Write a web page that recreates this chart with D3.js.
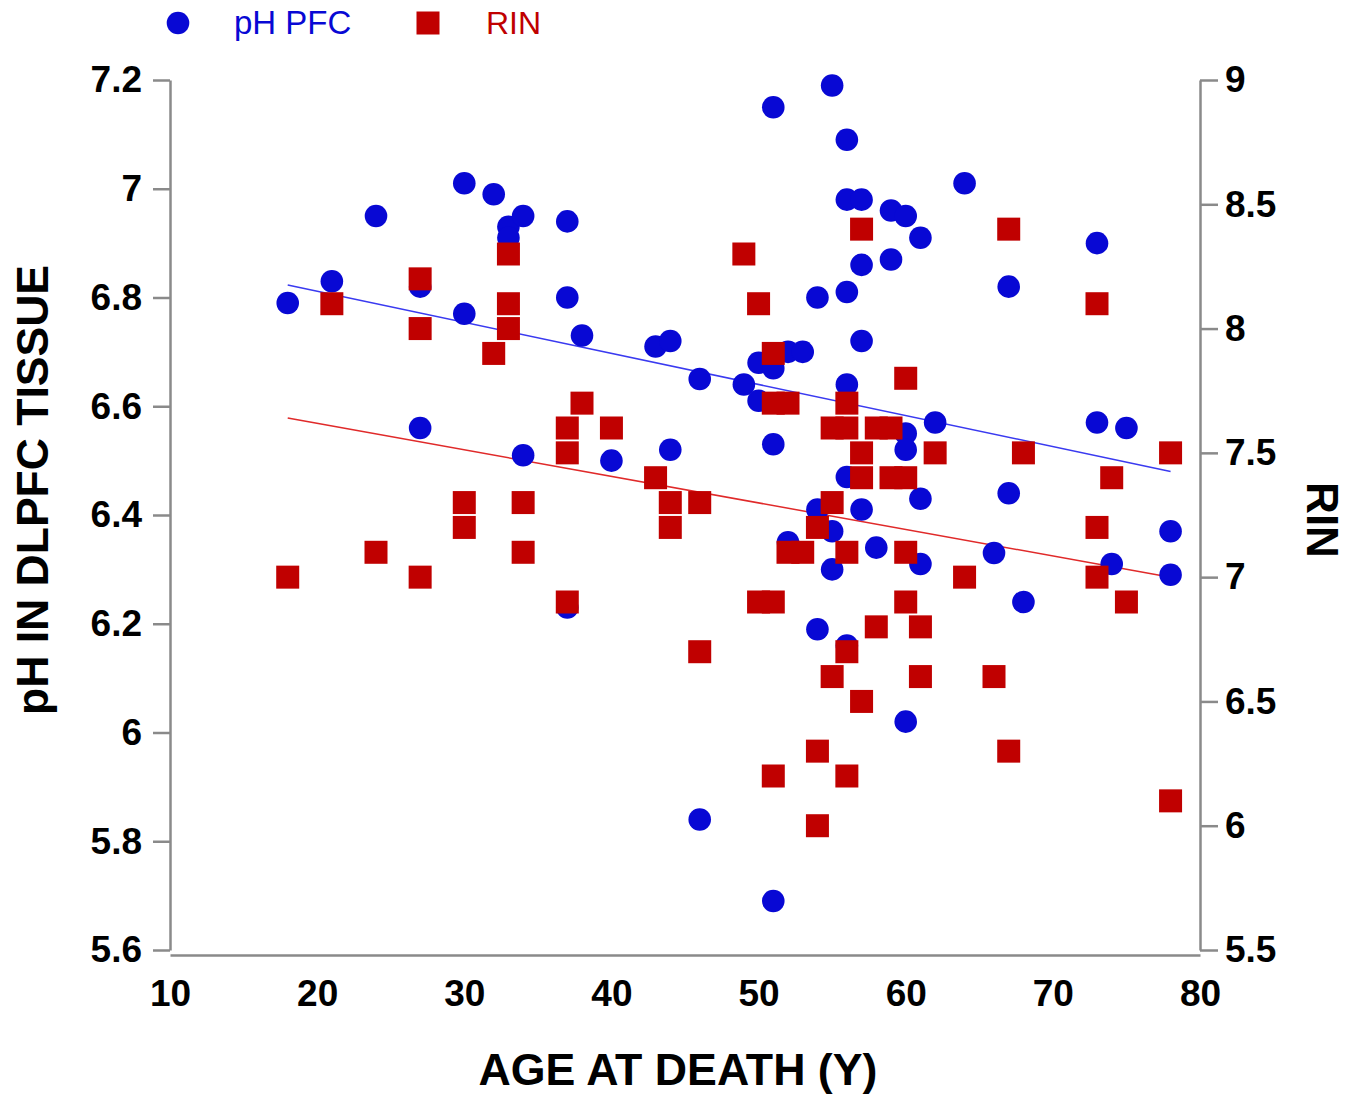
<!DOCTYPE html>
<html>
<head>
<meta charset="utf-8">
<script src="https://cdn.jsdelivr.net/npm/d3@7"></script>
<style>
  html, body { margin: 0; padding: 0; background: #fff; }
  svg { display: block; }
</style>
</head>
<body>
<svg id="chart" width="1363" height="1098"></svg>
<script>
// ---------- data ----------
const phAge = [18,21,24,27,27,30,30,32,33,33,34,34,37,37,37,38,40,43,44,44,46,46,49,50,50,51,51,51,51,52,52,53,54,54,54,55,55,55,56,56,56,56,56,56,57,57,57,57,58,59,59,60,60,60,60,61,61,61,62,64,66,67,67,68,73,73,74,75,78,78];
const phValue = [6.79,6.83,6.95,6.82,6.56,7.01,6.77,6.99,6.93,6.91,6.95,6.51,6.94,6.80,6.23,6.73,6.50,6.71,6.72,6.52,6.65,5.84,6.64,6.68,6.61,7.15,6.67,6.53,5.69,6.70,6.35,6.70,6.80,6.41,6.19,7.19,6.37,6.30,7.09,6.98,6.81,6.64,6.47,6.16,6.98,6.86,6.72,6.41,6.34,6.96,6.87,6.95,6.55,6.52,6.02,6.91,6.43,6.31,6.57,7.01,6.33,6.82,6.44,6.24,6.90,6.57,6.31,6.56,6.37,6.29];
const rinAge = [18,21,24,27,27,27,30,30,32,33,33,33,34,34,37,37,37,38,40,43,44,44,46,46,49,50,50,51,51,51,51,52,52,53,54,54,54,55,55,55,56,56,56,56,56,57,57,57,57,58,58,59,59,60,60,60,60,61,61,62,64,66,67,67,68,73,73,73,74,75,78,78];
const rinValue = [7.0,8.1,7.1,8.2,8.0,7.0,7.3,7.2,7.9,8.3,8.1,8.0,7.3,7.1,7.6,7.5,6.9,7.7,7.6,7.4,7.3,7.2,7.3,6.7,8.3,8.1,6.9,7.9,7.7,6.9,6.2,7.7,7.1,7.1,7.2,6.3,6.0,7.6,7.3,6.6,7.7,7.6,7.1,6.7,6.2,8.4,7.5,7.4,6.5,7.6,6.8,7.6,7.4,7.8,7.4,7.1,6.9,6.8,6.6,7.5,7.0,6.6,8.4,6.3,7.5,8.1,7.2,7.0,7.4,6.9,7.5,6.1];
// fitted trend lines
const fitAge = [18, 78];
const phFit = [6.823, 6.48];
const rinFit = [7.64, 7.0];
// ticks
const xTicks = [10,20,30,40,50,60,70,80];
const yLeftTicks = [5.6,5.8,6.0,6.2,6.4,6.6,6.8,7.0,7.2];
const yRightTicks = [5.5,6.0,6.5,7.0,7.5,8.0,8.5,9.0];
const seriesNames = ["pH PFC", "RIN"];
const xTitle = "AGE AT DEATH (Y)";
const yLeftTitle = "pH IN DLPFC TISSUE";
const yRightTitle = "RIN";

// ---------- chart ----------
const BLUE = "#0808d4", RED = "#c00000", AXIS = "#8a8a8a";
const FONT = "'Liberation Sans', Arial, Helvetica, sans-serif";
const svg = d3.select("#chart");

const x = d3.scaleLinear().domain([10, 80]).range([170, 1200]);
const yL = d3.scaleLinear().domain([5.6, 7.2]).range([950, 80]);
const yR = d3.scaleLinear().domain([5.5, 9]).range([950, 80]);

const fmt = d => String(+d.toFixed(1));

function styleAxis(g) {
  g.selectAll("path.domain").attr("stroke", AXIS).attr("stroke-width", 2.5);
  g.selectAll(".tick line").attr("stroke", AXIS).attr("stroke-width", 2.5);
  g.selectAll(".tick text").attr("fill", "#000").style("font-family", FONT)
    .style("font-weight", "bold").style("font-size", "37px");
}

const gL = svg.append("g").attr("transform", "translate(170,0)")
  .call(d3.axisLeft(yL).tickValues(yLeftTicks).tickFormat(fmt).tickSize(17).tickSizeOuter(0).tickPadding(11));
gL.attr("font-family", null).attr("font-size", null);
styleAxis(gL);

const gR = svg.append("g").attr("transform", "translate(1200,0)")
  .call(d3.axisRight(yR).tickValues(yRightTicks).tickFormat(fmt).tickSize(18).tickSizeOuter(0).tickPadding(7));
gR.attr("font-family", null).attr("font-size", null);
styleAxis(gR);

const gB = svg.append("g").attr("transform", "translate(0,955)")
  .call(d3.axisBottom(x).tickValues(xTicks).tickFormat(d3.format("d")).tickSize(0).tickSizeOuter(0).tickPadding(25));
gB.attr("font-family", null).attr("font-size", null);
styleAxis(gB);

// axis titles
svg.append("text").attr("x", 678).attr("y", 1085).attr("text-anchor", "middle")
  .style("font-family", FONT).style("font-weight", "bold").style("font-size", "44.7px")
  .text(xTitle);
svg.append("text").attr("transform", "translate(48,490) rotate(-90)").attr("text-anchor", "middle")
  .style("font-family", FONT).style("font-weight", "bold").style("font-size", "44.5px")
  .text(yLeftTitle);
svg.append("text").attr("transform", "translate(1307,520) rotate(90)").attr("text-anchor", "middle")
  .style("font-family", FONT).style("font-weight", "bold").style("font-size", "44px")
  .text(yRightTitle);

// trend lines
const lineL = d3.line().x(d => x(d[0])).y(d => yL(d[1]));
const lineR = d3.line().x(d => x(d[0])).y(d => yR(d[1]));
svg.append("path").datum(d3.zip(fitAge, phFit)).attr("d", lineL)
  .attr("stroke", "#3a3af0").attr("stroke-width", 1.5).attr("fill", "none");
svg.append("path").datum(d3.zip(fitAge, rinFit)).attr("d", lineR)
  .attr("stroke", "#e02a2a").attr("stroke-width", 1.5).attr("fill", "none");

// markers
svg.append("g").selectAll("circle").data(d3.zip(phAge, phValue)).join("circle")
  .attr("cx", d => x(d[0])).attr("cy", d => yL(d[1])).attr("r", 11.3)
  .attr("fill", BLUE);
const S = 23;
svg.append("g").selectAll("rect").data(d3.zip(rinAge, rinValue)).join("rect")
  .attr("x", d => x(d[0]) - S / 2).attr("y", d => yR(d[1]) - S / 2)
  .attr("width", S).attr("height", S).attr("fill", RED);

// legend
const leg = svg.append("g");
leg.append("circle").attr("cx", 178).attr("cy", 23).attr("r", 11.3).attr("fill", BLUE);
leg.append("text").attr("x", 234).attr("y", 34).attr("fill", BLUE)
  .style("font-family", FONT).style("font-size", "33px").text(seriesNames[0]);
leg.append("rect").attr("x", 428 - 11.5).attr("y", 23 - 11.5).attr("width", S).attr("height", S).attr("fill", RED);
leg.append("text").attr("x", 486).attr("y", 34).attr("fill", RED)
  .style("font-family", FONT).style("font-size", "32px").text(seriesNames[1]);
</script>
</body>
</html>
